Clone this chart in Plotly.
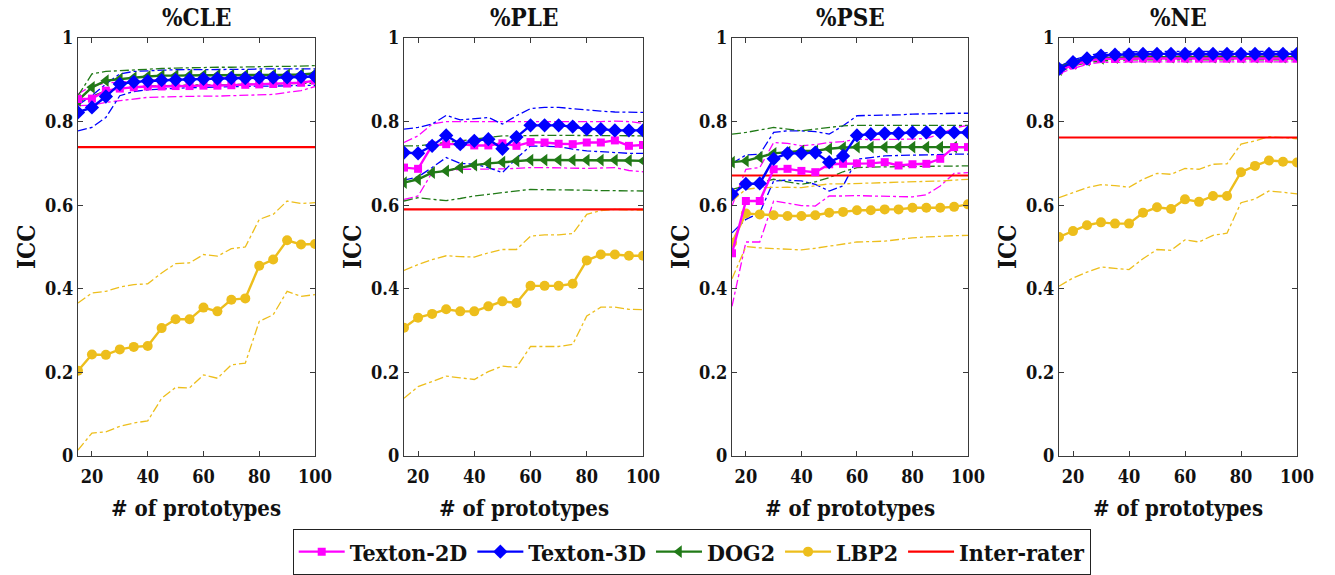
import plotly.graph_objects as go

W, H = 1335, 575
x_protos = [15, 20, 25, 30, 35, 40, 45, 50, 55, 60, 65, 70, 75, 80, 85, 90, 95, 100]
panel_titles = ["%CLE", "%PLE", "%PSE", "%NE"]
method_names = ["Texton-2D", "Texton-3D", "DOG2", "LBP2"]
x_ticks = [20, 40, 60, 80, 100]
y_ticks = [0, 0.2, 0.4, 0.6, 0.8, 1]

# ---- %CLE ----
cle_t2d = [0.854,0.855,0.874,0.879,0.882,0.884,0.884,0.885,0.885,0.886,0.886,0.887,0.888,0.889,0.890,0.891,0.893,0.898]
cle_t2d_hi = [0.866,0.886,0.892,0.895,0.897,0.899,0.900,0.901,0.902,0.903,0.904,0.905,0.906,0.907,0.908,0.909,0.911,0.914]
cle_t2d_lo = [0.838,0.839,0.846,0.850,0.855,0.858,0.859,0.860,0.860,0.861,0.861,0.862,0.862,0.863,0.865,0.870,0.874,0.884]
cle_t3d = [0.822,0.834,0.860,0.890,0.895,0.897,0.899,0.900,0.901,0.902,0.903,0.904,0.904,0.905,0.905,0.906,0.907,0.908]
cle_t3d_hi = [0.840,0.862,0.890,0.914,0.920,0.922,0.923,0.924,0.924,0.925,0.925,0.925,0.925,0.926,0.926,0.926,0.926,0.926]
cle_t3d_lo = [0.778,0.786,0.810,0.862,0.872,0.876,0.878,0.880,0.881,0.882,0.883,0.884,0.884,0.885,0.885,0.886,0.886,0.887]
cle_dog = [0.851,0.882,0.898,0.902,0.905,0.908,0.910,0.910,0.911,0.911,0.911,0.911,0.911,0.911,0.912,0.912,0.913,0.915]
cle_dog_hi = [0.862,0.914,0.920,0.922,0.924,0.926,0.927,0.928,0.929,0.929,0.930,0.930,0.931,0.931,0.932,0.932,0.933,0.934]
cle_dog_lo = [0.847,0.860,0.874,0.880,0.883,0.885,0.886,0.887,0.887,0.888,0.888,0.889,0.889,0.890,0.890,0.891,0.891,0.892]
cle_lbp = [0.204,0.243,0.242,0.255,0.261,0.263,0.306,0.327,0.327,0.355,0.346,0.374,0.377,0.455,0.470,0.516,0.506,0.507]
cle_lbp_hi = [0.366,0.390,0.394,0.404,0.410,0.412,0.438,0.460,0.462,0.482,0.478,0.496,0.500,0.566,0.578,0.610,0.604,0.606]
cle_lbp_lo = [0.014,0.055,0.058,0.071,0.079,0.084,0.138,0.164,0.163,0.194,0.186,0.218,0.222,0.322,0.338,0.394,0.382,0.386]

# ---- %PLE ----
ple_t2d = [0.690,0.687,0.743,0.746,0.746,0.743,0.743,0.748,0.742,0.751,0.750,0.747,0.746,0.750,0.750,0.755,0.742,0.744]
ple_t2d_hi = [0.750,0.766,0.794,0.800,0.800,0.800,0.800,0.799,0.800,0.800,0.800,0.800,0.800,0.800,0.800,0.801,0.800,0.796]
ple_t2d_lo = [0.614,0.622,0.678,0.682,0.686,0.686,0.686,0.687,0.688,0.690,0.690,0.689,0.688,0.688,0.689,0.690,0.683,0.680]
ple_t3d = [0.726,0.724,0.742,0.767,0.746,0.754,0.758,0.735,0.763,0.791,0.791,0.791,0.788,0.782,0.782,0.779,0.779,0.779]
ple_t3d_hi = [0.782,0.786,0.794,0.815,0.804,0.807,0.810,0.794,0.814,0.831,0.834,0.834,0.831,0.827,0.825,0.823,0.822,0.822]
ple_t3d_lo = [0.660,0.668,0.690,0.714,0.700,0.698,0.690,0.678,0.712,0.742,0.741,0.740,0.734,0.730,0.728,0.726,0.724,0.724]
ple_dog = [0.654,0.662,0.678,0.682,0.690,0.696,0.700,0.703,0.706,0.708,0.708,0.708,0.708,0.708,0.708,0.708,0.707,0.706]
ple_dog_hi = [0.742,0.742,0.746,0.750,0.754,0.758,0.762,0.766,0.766,0.767,0.767,0.767,0.767,0.767,0.767,0.767,0.766,0.766]
ple_dog_lo = [0.610,0.618,0.614,0.611,0.616,0.622,0.626,0.630,0.634,0.638,0.637,0.637,0.636,0.636,0.635,0.635,0.634,0.634]
ple_lbp = [0.307,0.331,0.340,0.351,0.346,0.346,0.358,0.370,0.366,0.407,0.407,0.407,0.412,0.468,0.482,0.482,0.479,0.479]
ple_lbp_hi = [0.444,0.458,0.470,0.479,0.477,0.476,0.486,0.494,0.494,0.526,0.529,0.529,0.532,0.578,0.587,0.590,0.589,0.588]
ple_lbp_lo = [0.138,0.166,0.178,0.191,0.187,0.183,0.202,0.215,0.212,0.262,0.262,0.262,0.267,0.335,0.356,0.356,0.351,0.350]

# ---- %PSE ----
pse_t2d = [0.485,0.610,0.610,0.686,0.687,0.682,0.679,0.698,0.699,0.700,0.700,0.703,0.695,0.698,0.699,0.711,0.739,0.739]
pse_t2d_hi = [0.598,0.686,0.690,0.750,0.748,0.742,0.745,0.750,0.752,0.758,0.757,0.757,0.757,0.758,0.760,0.770,0.785,0.791]
pse_t2d_lo = [0.358,0.512,0.512,0.610,0.605,0.599,0.598,0.622,0.622,0.623,0.622,0.621,0.620,0.620,0.625,0.646,0.676,0.678]
pse_t3d = [0.626,0.651,0.652,0.711,0.724,0.724,0.726,0.703,0.718,0.767,0.770,0.772,0.772,0.774,0.774,0.774,0.774,0.774]
pse_t3d_hi = [0.700,0.720,0.722,0.774,0.778,0.778,0.776,0.770,0.790,0.814,0.815,0.815,0.816,0.818,0.818,0.819,0.820,0.820]
pse_t3d_lo = [0.534,0.566,0.582,0.658,0.660,0.658,0.650,0.634,0.646,0.710,0.714,0.718,0.719,0.720,0.720,0.721,0.722,0.722]
pse_dog = [0.703,0.706,0.715,0.724,0.727,0.730,0.730,0.735,0.738,0.739,0.739,0.739,0.739,0.739,0.739,0.739,0.739,0.739]
pse_dog_hi = [0.770,0.774,0.780,0.786,0.782,0.778,0.782,0.786,0.790,0.791,0.791,0.791,0.791,0.791,0.791,0.791,0.791,0.791]
pse_dog_lo = [0.638,0.646,0.654,0.662,0.656,0.650,0.656,0.666,0.680,0.690,0.691,0.692,0.692,0.693,0.693,0.693,0.694,0.694]
pse_lbp = [0.510,0.580,0.578,0.576,0.574,0.574,0.576,0.582,0.584,0.588,0.588,0.590,0.590,0.594,0.594,0.594,0.596,0.602]
pse_lbp_hi = [0.610,0.638,0.642,0.643,0.643,0.642,0.646,0.651,0.651,0.652,0.653,0.654,0.654,0.655,0.656,0.658,0.660,0.662]
pse_lbp_lo = [0.424,0.501,0.498,0.496,0.494,0.493,0.497,0.502,0.506,0.512,0.513,0.514,0.518,0.522,0.524,0.526,0.527,0.528]

# ---- %NE ----
ne_t2d = [0.923,0.935,0.945,0.950,0.950,0.951,0.951,0.951,0.951,0.951,0.951,0.951,0.951,0.951,0.951,0.951,0.951,0.951]
ne_t2d_hi = [0.929,0.941,0.951,0.956,0.956,0.957,0.957,0.957,0.957,0.957,0.957,0.957,0.957,0.957,0.957,0.957,0.957,0.957]
ne_t2d_lo = [0.915,0.927,0.937,0.942,0.942,0.943,0.943,0.943,0.943,0.943,0.943,0.943,0.943,0.943,0.943,0.943,0.943,0.943]
ne_t3d = [0.926,0.942,0.951,0.958,0.960,0.961,0.962,0.962,0.962,0.962,0.962,0.962,0.962,0.962,0.962,0.962,0.962,0.962]
ne_t3d_hi = [0.932,0.948,0.957,0.964,0.966,0.967,0.968,0.968,0.968,0.968,0.968,0.968,0.968,0.968,0.968,0.968,0.968,0.968]
ne_t3d_lo = [0.920,0.936,0.945,0.952,0.954,0.955,0.956,0.956,0.956,0.956,0.956,0.956,0.956,0.956,0.956,0.956,0.956,0.956]
ne_dog = [0.924,0.939,0.947,0.951,0.953,0.954,0.954,0.954,0.954,0.954,0.954,0.954,0.954,0.954,0.954,0.954,0.954,0.954]
ne_dog_hi = [0.930,0.945,0.953,0.957,0.959,0.960,0.960,0.960,0.960,0.960,0.960,0.960,0.960,0.960,0.960,0.960,0.960,0.960]
ne_dog_lo = [0.918,0.933,0.941,0.945,0.947,0.948,0.948,0.948,0.948,0.948,0.948,0.948,0.948,0.948,0.948,0.948,0.948,0.948]
ne_lbp = [0.524,0.538,0.552,0.559,0.556,0.556,0.582,0.595,0.591,0.614,0.608,0.622,0.622,0.679,0.694,0.707,0.704,0.702]
ne_lbp_hi = [0.618,0.630,0.642,0.649,0.647,0.643,0.662,0.676,0.674,0.688,0.686,0.698,0.699,0.746,0.754,0.764,0.762,0.759]
ne_lbp_lo = [0.406,0.426,0.440,0.452,0.449,0.446,0.472,0.494,0.492,0.517,0.512,0.528,0.533,0.606,0.615,0.634,0.631,0.627]

inter_rater = [0.739, 0.590, 0.671, 0.762]

panels = [
    [(cle_t2d, cle_t2d_hi, cle_t2d_lo), (cle_t3d, cle_t3d_hi, cle_t3d_lo), (cle_dog, cle_dog_hi, cle_dog_lo), (cle_lbp, cle_lbp_hi, cle_lbp_lo)],
    [(ple_t2d, ple_t2d_hi, ple_t2d_lo), (ple_t3d, ple_t3d_hi, ple_t3d_lo), (ple_dog, ple_dog_hi, ple_dog_lo), (ple_lbp, ple_lbp_hi, ple_lbp_lo)],
    [(pse_t2d, pse_t2d_hi, pse_t2d_lo), (pse_t3d, pse_t3d_hi, pse_t3d_lo), (pse_dog, pse_dog_hi, pse_dog_lo), (pse_lbp, pse_lbp_hi, pse_lbp_lo)],
    [(ne_t2d, ne_t2d_hi, ne_t2d_lo), (ne_t3d, ne_t3d_hi, ne_t3d_lo), (ne_dog, ne_dog_hi, ne_dog_lo), (ne_lbp, ne_lbp_hi, ne_lbp_lo)],
]

colors = ["#FF00FF", "#0000FF", "#217A17", "#EDBE1C"]
symbols = ["square", "diamond", "triangle-left", "circle"]
msizes = [8, 11, 11, 10]
red = "#FF0000"

FONT = "DejaVu Serif Condensed, DejaVu Serif"
TXT = "#111111"
px_boxes = [(78, 315), (404, 643), (732, 968), (1059, 1297)]
top_px, bot_px = 38, 456

fig = go.Figure()

for p in range(4):
    xa = "x" if p == 0 else f"x{p+1}"
    ya = "y" if p == 0 else f"y{p+1}"
    for m in range(4):
        mean, hi, lo = panels[p][m]
        for band in (hi, lo):
            fig.add_trace(go.Scatter(
                x=x_protos, y=band, mode="lines", xaxis=xa, yaxis=ya,
                line=dict(color=colors[m], width=1.3, dash="dashdot"),
                showlegend=False, hoverinfo="skip"))
    fig.add_trace(go.Scatter(
        x=[x_protos[0], x_protos[-1]], y=[inter_rater[p], inter_rater[p]],
        mode="lines", xaxis=xa, yaxis=ya, name="Inter-rater",
        line=dict(color=red, width=2.2), showlegend=False, legendrank=5))
    for m in [3, 2, 0, 1]:
        mean, hi, lo = panels[p][m]
        fig.add_trace(go.Scatter(
            x=x_protos, y=mean, mode="lines+markers", xaxis=xa, yaxis=ya,
            name=method_names[m],
            line=dict(color=colors[m], width=2.4),
            marker=dict(symbol=symbols[m], size=msizes[m], color=colors[m]),
            showlegend=(p == 0), legendrank=m + 1))

fig.add_trace(go.Scatter(
    x=[None], y=[None], mode="lines", name="Inter-rater",
    line=dict(color=red, width=2.4), showlegend=True, legendrank=5))

axis_common = dict(
    showline=True, linecolor="#3a3a3a", linewidth=1.3, mirror="ticks",
    ticks="inside", ticklen=5, tickwidth=1, tickcolor="#3a3a3a",
    showgrid=False, zeroline=False, automargin=False,
    tickfont=dict(family=FONT, size=18, color=TXT, weight="bold"),
)

annotations = []
for p in range(4):
    l, r = px_boxes[p]
    xd = [l / W, r / W]
    yd = [(H - bot_px) / H, (H - top_px) / H]
    sfx = "" if p == 0 else str(p + 1)
    fig.layout["xaxis" + sfx] = dict(
        domain=xd, range=[15, 100], tickvals=x_ticks,
        anchor="y" + sfx, ticklabelstandoff=4, **axis_common)
    fig.layout["yaxis" + sfx] = dict(
        domain=yd, range=[0, 1], tickvals=y_ticks,
        anchor="x" + sfx, **axis_common)
    cx = (l + r) / 2 / W
    annotations.append(dict(
        text=panel_titles[p], x=cx, y=(H - 18) / H, xref="paper", yref="paper",
        showarrow=False, xanchor="center", yanchor="middle",
        font=dict(family=FONT, size=24, color=TXT, weight="bold")))
    annotations.append(dict(
        text="# of prototypes", x=cx, y=(H - 508) / H, xref="paper", yref="paper",
        showarrow=False, xanchor="center", yanchor="middle",
        font=dict(family=FONT, size=22, color=TXT, weight="bold")))
    annotations.append(dict(
        text="ICC", x=(l - 52) / W, y=(H - (top_px + bot_px) / 2) / H,
        xref="paper", yref="paper", textangle=-90,
        showarrow=False, xanchor="center", yanchor="middle",
        font=dict(family=FONT, size=24, color=TXT, weight="bold")))

fig.update_layout(
    width=W, height=H,
    margin=dict(l=0, r=0, t=0, b=0, autoexpand=False),
    paper_bgcolor="white", plot_bgcolor="white",
    annotations=annotations,
    showlegend=True,
    legend=dict(
        orientation="h", x=692 / W, xanchor="center",
        y=(H - 529) / H, yanchor="top",
        bordercolor="#222222", borderwidth=1.2, bgcolor="white",
        font=dict(family=FONT, size=23, color=TXT, weight="bold"),
        itemwidth=46, tracegroupgap=0, traceorder="normal",
    ),
)

fig.write_html("out.html", config={"displayModeBar": False},
               post_script="document.body.style.margin='0px';document.body.style.overflow='hidden';")
